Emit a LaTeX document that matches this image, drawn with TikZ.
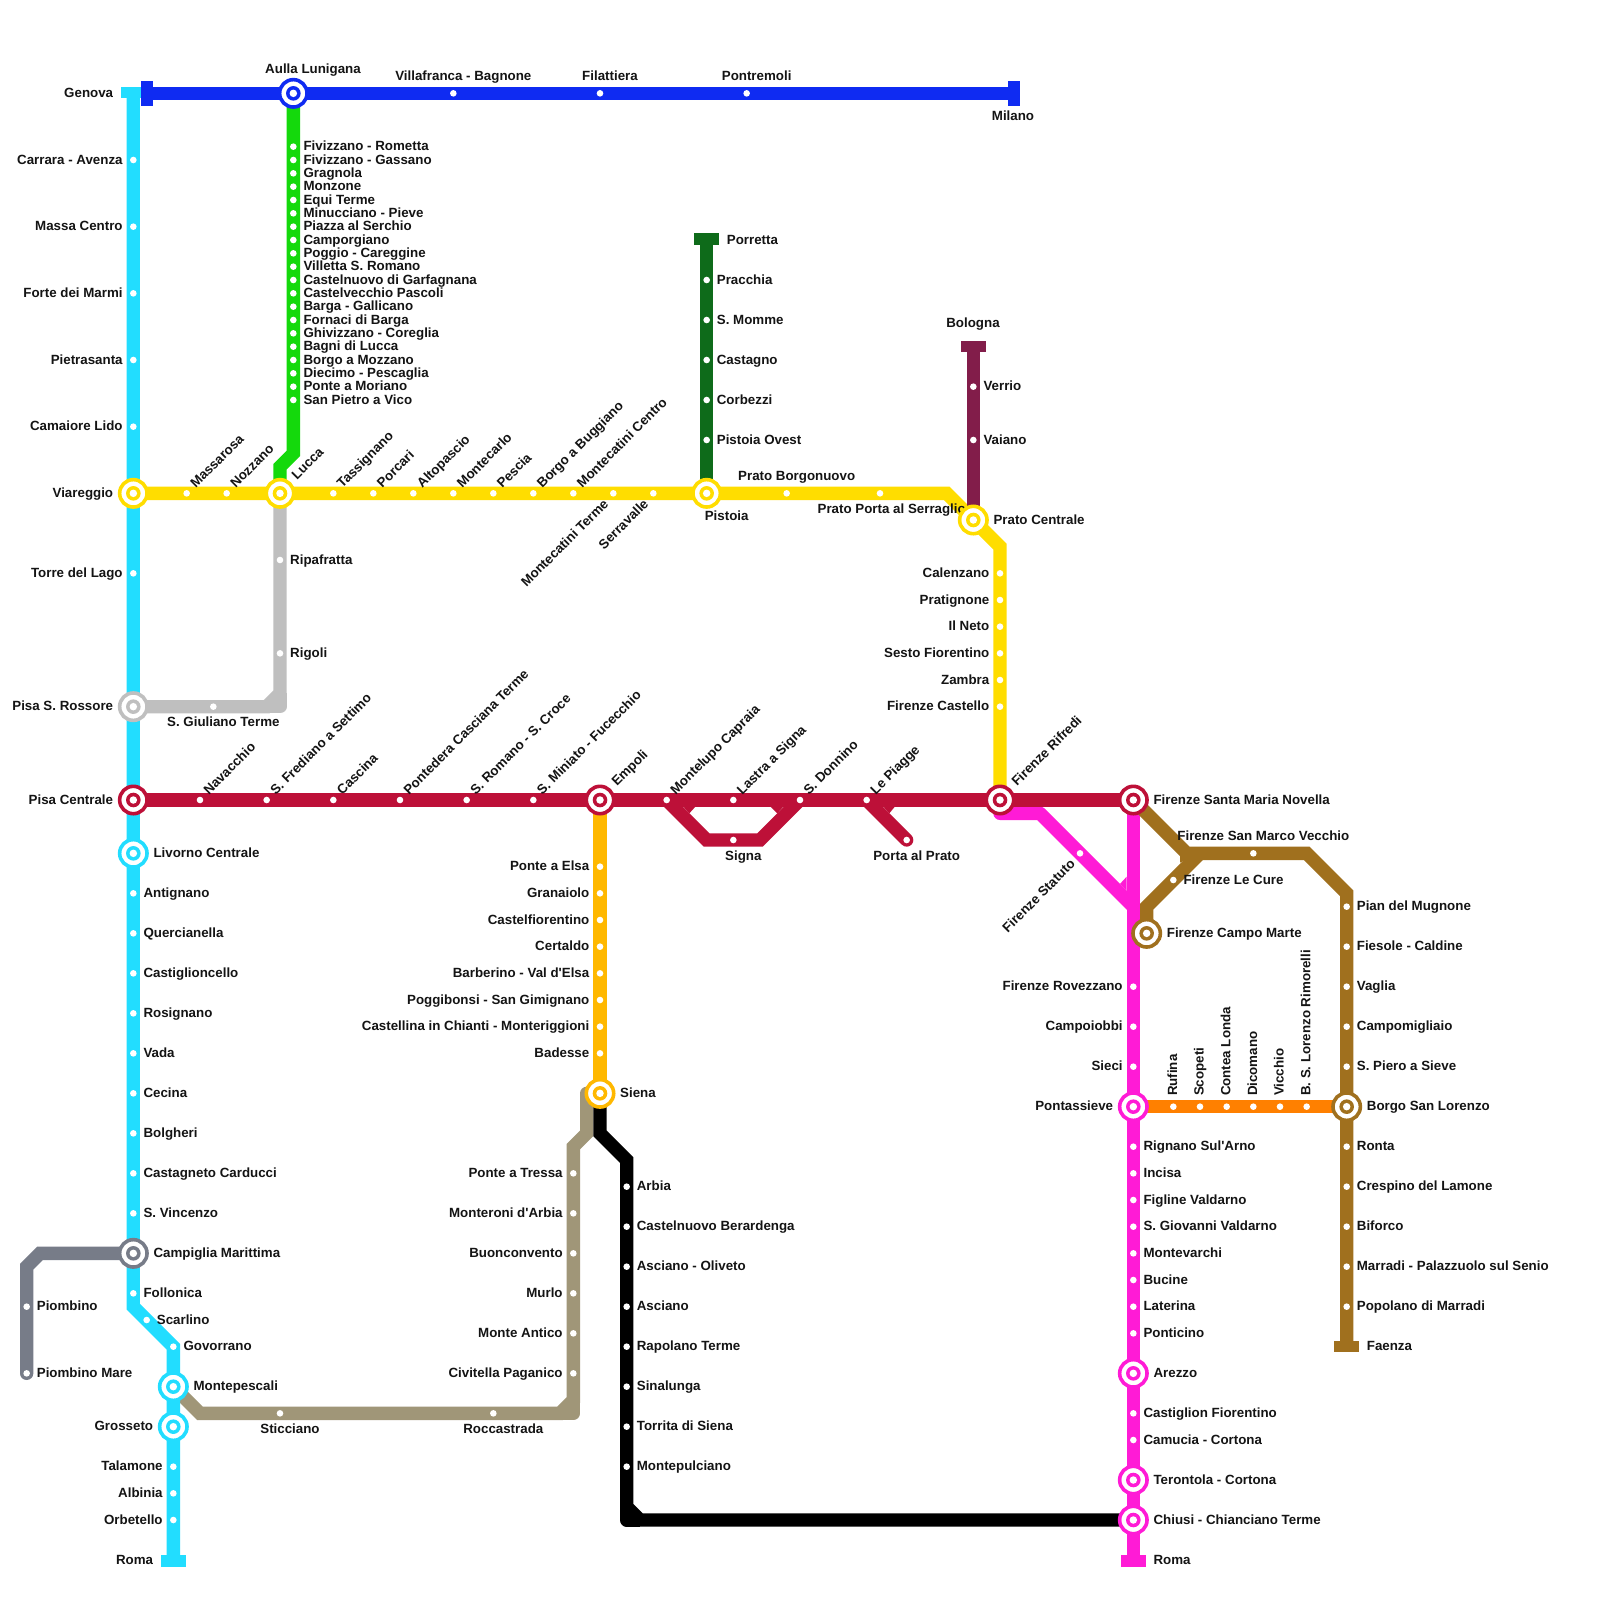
\documentclass[tikz,border=0pt]{standalone}
\usepackage{fontspec}
\newfontfamily\lblfont{Liberation Sans}
\definecolor{ccyan}{HTML}{22DDFF}
\definecolor{cblue}{HTML}{0F2BF2}
\definecolor{cgreen}{HTML}{14D90C}
\definecolor{cyell}{HTML}{FFDD00}
\definecolor{cgrey}{HTML}{BFBFBF}
\definecolor{ccrim}{HTML}{BD1038}
\definecolor{cmag}{HTML}{FF1BD6}
\definecolor{cbrown}{HTML}{A0701E}
\definecolor{ctan}{HTML}{A09678}
\definecolor{cslate}{HTML}{777C88}
\definecolor{cforest}{HTML}{0E6B1A}
\definecolor{cmaroon}{HTML}{821D4A}
\definecolor{cgold}{HTML}{FFB800}
\definecolor{corange}{HTML}{FF8000}
\tikzset{
  railway/.style={line width=13.33pt,line join=miter,line cap=butt,draw=#1},
  stopdot/.style={circle,fill=white,inner sep=0pt,minimum size=6.6pt},
  lbl/.style={inner sep=0pt,font=\lblfont\bfseries\fontsize{13.33}{15}\selectfont,text=black!92},
  ringo/.style={circle,draw=#1,line width=3.6pt,fill=white,inner sep=0pt,minimum size=27.4pt},
  ringi/.style={circle,fill=#1,inner sep=0pt,minimum size=14.6pt},
  ringc/.style={circle,fill=white,inner sep=0pt,minimum size=7.5pt},
  hbar/.style={fill=#1,inner sep=0pt,minimum width=25pt,minimum height=11.5pt},
  vbar/.style={fill=#1,inner sep=0pt,minimum width=12pt,minimum height=25pt}
}
% stops with a label: name, x, y, text
\newcommand\stR[4]{\node[stopdot] (#1) at (#2,#3) {};\node[lbl,anchor=base west,xshift=10pt,yshift=-4pt] (#1-l) at (#1.center) {#4};}
\newcommand\stL[4]{\node[stopdot] (#1) at (#2,#3) {};\node[lbl,anchor=base east,xshift=-10.5pt,yshift=-4pt] (#1-l) at (#1.center) {#4};}
\newcommand\stU[4]{\node[stopdot] (#1) at (#2,#3) {};\node[lbl,xshift=9pt,yshift=4.5pt,rotate=45,anchor=base west] (#1-l) at (#1.center) {#4};}
\newcommand\stD[4]{\node[stopdot] (#1) at (#2,#3) {};\node[lbl,xshift=-4pt,yshift=-11.5pt,rotate=45,anchor=base east] (#1-l) at (#1.center) {#4};}
\newcommand\stV[4]{\node[stopdot] (#1) at (#2,#3) {};\node[lbl,xshift=3.7pt,yshift=10.5pt,rotate=90,anchor=base west] (#1-l) at (#1.center) {#4};}
\newcommand\stA[4]{\node[stopdot] (#1) at (#2,#3) {};\node[lbl,anchor=base,xshift=10pt,yshift=13pt] (#1-l) at (#1.center) {#4};}
\newcommand\stB[4]{\node[stopdot] (#1) at (#2,#3) {};\node[lbl,anchor=base,xshift=10pt,yshift=-20pt] (#1-l) at (#1.center) {#4};}
% labels of interchanges and termini, at named coordinates
\newcommand\xR[2]{\node[lbl,anchor=base west,xshift=20pt,yshift=-4pt] (#1-l) at (#1) {#2};}
\newcommand\xL[2]{\node[lbl,anchor=base east,xshift=-20pt,yshift=-4pt] (#1-l) at (#1) {#2};}
\newcommand\xU[2]{\node[lbl,xshift=17pt,yshift=13pt,rotate=45,anchor=base west] (#1-l) at (#1) {#2};}
% interchange: name, colour
\newcommand\xch[2]{\node[ringo=#2] (#1-o) at (#1) {};\node[ringi=#2] (#1-i) at (#1) {};\node[ringc] (#1-c) at (#1) {};}
\begin{document}
\begin{tikzpicture}[x=13.3333pt,y=-13.3333pt]
\useasboundingbox[fill=white] (0,0) rectangle (120,120);
% named points
\coordinate (genovaC) at (10,7);
\coordinate (genovaB) at (11,7);
\coordinate (milano) at (76,7);
\coordinate (aulla) at (22,7);
\coordinate (viareggio) at (10,37);
\coordinate (lucca) at (21,37);
\coordinate (pistoia) at (53,37);
\coordinate (prato) at (73,39);
\coordinate (porretta) at (53,18);
\coordinate (bologna) at (73,26);
\coordinate (rossore) at (10,53);
\coordinate (pisa) at (10,60);
\coordinate (livorno) at (10,64);
\coordinate (campiglia) at (10,94);
\coordinate (montepescali) at (13,104);
\coordinate (grosseto) at (13,107);
\coordinate (romaA) at (13,117);
\coordinate (empoli) at (45,60);
\coordinate (siena) at (45,82);
\coordinate (rifredi) at (75,60);
\coordinate (smn) at (85,60);
\coordinate (campomarte) at (86,70);
\coordinate (pontassieve) at (85,83);
\coordinate (borgo) at (101,83);
\coordinate (faenza) at (101,101);
\coordinate (arezzo) at (85,103);
\coordinate (terontola) at (85,111);
\coordinate (chiusi) at (85,114);
\coordinate (romaB) at (85,117);
% bends
\coordinate (b1) at (22,34); \coordinate (b2) at (21,35);
\coordinate (b3) at (71,37); \coordinate (b4) at (75,41);
\coordinate (b5) at (21,52); \coordinate (b6) at (20,53); \coordinate (b5c) at (21,53);
\coordinate (b7) at (10,98); \coordinate (b8) at (13,101);
\coordinate (b9) at (3,94);  \coordinate (b10) at (2,95);
\coordinate (pmare) at (2,103);
\coordinate (sig0) at (50,60); \coordinate (sig1) at (53,63);
\coordinate (sig2) at (57,63); \coordinate (sig3) at (60,60);
\coordinate (pp0) at (65,60); \coordinate (pp1) at (68,63);
\coordinate (mg1) at (75,61); \coordinate (mg2) at (78,61); \coordinate (mg3) at (85,68);
\coordinate (br1) at (89,64); \coordinate (br2) at (98,64); \coordinate (br3) at (101,67);
\coordinate (br4) at (86,68); \coordinate (br5) at (90,64);
\coordinate (bk1) at (45,85); \coordinate (bk2) at (47,87); \coordinate (bk3) at (47,113); \coordinate (bk4) at (48,114); \coordinate (bkc) at (47,114);
\coordinate (tn0) at (44,82); \coordinate (tn1) at (44,85); \coordinate (tn2) at (43,86);
\coordinate (tn3) at (43,105); \coordinate (tn4) at (42,106); \coordinate (tn5) at (15,106); \coordinate (tnc) at (43,106);
% lines
\draw[railway=ctan,line cap=round] (tn0) -- (tn1) -- (tn2) -- (tn3) -- (tn4) -- (tn5) -- (montepescali);
\draw[railway=ctan,line join=round] (tn3) -- (tnc) -- (tn4);
\draw[railway=ccyan] (genovaC) -- (b7) -- (b8) -- (romaA);
\draw[railway=cslate,line cap=round] (campiglia) -- (b9) -- (b10) -- (pmare);
\draw[railway=cgreen] (aulla) -- (b1) -- (b2) -- (lucca);
\draw[railway=cgrey] (lucca) -- (b5) -- (b6) -- (rossore);
\draw[railway=cgrey,line join=round] (b5) -- (b5c) -- (b6);
\draw[railway=cforest] (porretta) -- (pistoia);
\draw[railway=cblue] (genovaB) -- (milano);
\draw[railway=cyell] (viareggio) -- (b3) -- (prato) -- (b4) -- (rifredi);
\draw[railway=cmaroon] (bologna) -- (prato);
\draw[railway=cgold] (empoli) -- (siena);
\draw[railway=black] (siena) -- (bk1) -- (bk2) -- (bk3) -- (bk4) -- (chiusi);
\draw[railway=black,line join=round] (bk3) -- (bkc) -- (bk4);
\draw[railway=cmag] (smn) -- (romaB);
\draw[railway=cmag,line join=round] (rifredi) -- (mg1) -- (mg2) -- (mg3);
\fill[cmag] (84,66.29) -- (84.5,65.75) -- (84.5,66.79) -- cycle;
\draw[railway=cbrown] (smn) -- (br1) -- (br2) -- (br3) -- (faenza);
\draw[railway=cbrown] (campomarte) -- (br4) -- (br5);
\fill[cbrown] (88.5,64.1) -- (88.5,64.7) -- (88.9,64.5) -- cycle;
\draw[railway=corange] (pontassieve) -- (borgo);
\draw[railway=ccrim] (pisa) -- (smn);
\draw[railway=ccrim] (sig0) -- (sig1) -- (sig2) -- (sig3);
\fill[ccrim] (51.2,60.45) -- (52.2,60.45) -- (51.7,61) -- cycle;
\fill[ccrim] (58.8,60.45) -- (57.75,60.45) -- (58.3,61) -- cycle;
\draw[railway=ccrim,line cap=round] (pp0) -- (pp1);
\fill[ccrim] (66.2,60.45) -- (67.15,60.45) -- (66.7,61) -- cycle;
% termini
\node[hbar=ccyan,yshift=1pt] (genovaC-t) at (10,7) {};
\node[vbar=cblue] (genovaB-t) at (genovaB) {};
\node[vbar=cblue,xshift=0.7pt] (milano-t) at (milano) {};
\node[hbar=ccyan,yshift=-1pt] (romaA-t) at (romaA) {};
\node[hbar=cmag,yshift=-1pt] (romaB-t) at (romaB) {};
\node[hbar=cbrown] (faenza-t) at (faenza) {};
\node[hbar=cforest,yshift=1.2pt] (porretta-t) at (porretta) {};
\node[hbar=cmaroon] (bologna-t) at (bologna) {};
% blue
\stA{villafranca}{34}{7}{Villafranca - Bagnone}
\stA{filattiera}{45}{7}{Filattiera}
\stA{pontremoli}{56}{7}{Pontremoli}
\node[lbl,anchor=base] (aulla-l) at (313pt,-73pt) {Aulla Lunigana};
\node[lbl,anchor=base] (milano-l) at (1013pt,-120pt) {Milano};
% cyan
\node[lbl,anchor=base east,xshift=-20pt,yshift=-4pt] (genovaC-l) at (genovaC) {Genova};
\stL{carrara}{10}{12}{Carrara - Avenza}
\stL{massa}{10}{17}{Massa Centro}
\stL{forte}{10}{22}{Forte dei Marmi}
\stL{pietrasanta}{10}{27}{Pietrasanta}
\stL{camaiore}{10}{32}{Camaiore Lido}
\xL{viareggio}{Viareggio}
\stL{torre}{10}{43}{Torre del Lago}
\xL{rossore}{Pisa S. Rossore}
\xL{pisa}{Pisa Centrale}
\xR{livorno}{Livorno Centrale}
\stR{antignano}{10}{67}{Antignano}
\stR{quercianella}{10}{70}{Quercianella}
\stR{castiglioncello}{10}{73}{Castiglioncello}
\stR{rosignano}{10}{76}{Rosignano}
\stR{vada}{10}{79}{Vada}
\stR{cecina}{10}{82}{Cecina}
\stR{bolgheri}{10}{85}{Bolgheri}
\stR{castagneto}{10}{88}{Castagneto Carducci}
\stR{vincenzo}{10}{91}{S. Vincenzo}
\xR{campiglia}{Campiglia Marittima}
\stR{follonica}{10}{97}{Follonica}
\stR{scarlino}{11}{99}{Scarlino}
\stR{govorrano}{13}{101}{Govorrano}
\xR{montepescali}{Montepescali}
\xL{grosseto}{Grosseto}
\stL{talamone}{13}{110}{Talamone}
\stL{albinia}{13}{112}{Albinia}
\stL{orbetello}{13}{114}{Orbetello}
\xL{romaA}{Roma}
% slate
\stR{piombino}{2}{98}{Piombino}
\stR{piombinomare}{2}{103}{Piombino Mare}
% green
\stR{g1}{22}{11}{Fivizzano - Rometta}
\stR{g2}{22}{12}{Fivizzano - Gassano}
\stR{g3}{22}{13}{Gragnola}
\stR{g4}{22}{14}{Monzone}
\stR{g5}{22}{15}{Equi Terme}
\stR{g6}{22}{16}{Minucciano - Pieve}
\stR{g7}{22}{17}{Piazza al Serchio}
\stR{g8}{22}{18}{Camporgiano}
\stR{g9}{22}{19}{Poggio - Careggine}
\stR{g10}{22}{20}{Villetta S. Romano}
\stR{g11}{22}{21}{Castelnuovo di Garfagnana}
\stR{g12}{22}{22}{Castelvecchio Pascoli}
\stR{g13}{22}{23}{Barga - Gallicano}
\stR{g14}{22}{24}{Fornaci di Barga}
\stR{g15}{22}{25}{Ghivizzano - Coreglia}
\stR{g16}{22}{26}{Bagni di Lucca}
\stR{g17}{22}{27}{Borgo a Mozzano}
\stR{g18}{22}{28}{Diecimo - Pescaglia}
\stR{g19}{22}{29}{Ponte a Moriano}
\stR{g20}{22}{30}{San Pietro a Vico}
% yellow
\stU{massarosa}{14}{37}{Massarosa}
\stU{nozzano}{17}{37}{Nozzano}
\xU{lucca}{Lucca}
\stU{tassignano}{25}{37}{Tassignano}
\stU{porcari}{28}{37}{Porcari}
\stU{altopascio}{31}{37}{Altopascio}
\stU{montecarlo}{34}{37}{Montecarlo}
\stU{pescia}{37}{37}{Pescia}
\stU{buggiano}{40}{37}{Borgo a Buggiano}
\stU{mcentro}{43}{37}{Montecatini Centro}
\stD{mterme}{46}{37}{Montecatini Terme}
\stD{serravalle}{49}{37}{Serravalle}
\node[lbl,anchor=base,xshift=20pt,yshift=-27pt] (pistoia-l) at (pistoia) {Pistoia};
\stA{borgonuovo}{59}{37}{Prato Borgonuovo}
\node[stopdot] (serraglio) at (66,37) {};
\node[lbl,anchor=base east] (serraglio-l) at (966pt,-513pt) {Prato Porta al Serraglio};
\xR{prato}{Prato Centrale}
\stL{calenzano}{75}{43}{Calenzano}
\stL{pratignone}{75}{45}{Pratignone}
\stL{ilneto}{75}{47}{Il Neto}
\stL{sesto}{75}{49}{Sesto Fiorentino}
\stL{zambra}{75}{51}{Zambra}
\stL{castello}{75}{53}{Firenze Castello}
% forest
\xR{porretta}{Porretta}
\stR{pracchia}{53}{21}{Pracchia}
\stR{momme}{53}{24}{S. Momme}
\stR{castagno}{53}{27}{Castagno}
\stR{corbezzi}{53}{30}{Corbezzi}
\stR{postovest}{53}{33}{Pistoia Ovest}
% maroon
\node[lbl,anchor=base] (bologna-l) at (973pt,-327pt) {Bologna};
\stR{verrio}{73}{29}{Verrio}
\stR{vaiano}{73}{33}{Vaiano}
% grey
\stR{ripafratta}{21}{42}{Ripafratta}
\stR{rigoli}{21}{49}{Rigoli}
\stB{giuliano}{16}{53}{S. Giuliano Terme}
% crimson
\stU{navacchio}{15}{60}{Navacchio}
\stU{frediano}{20}{60}{S. Frediano a Settimo}
\stU{cascina}{25}{60}{Cascina}
\stU{pontedera}{30}{60}{Pontedera Casciana Terme}
\stU{romano}{35}{60}{S. Romano - S. Croce}
\stU{miniato}{40}{60}{S. Miniato - Fucecchio}
\xU{empoli}{Empoli}
\stU{montelupo}{50}{60}{Montelupo Capraia}
\stU{lastra}{55}{60}{Lastra a Signa}
\stU{donnino}{60}{60}{S. Donnino}
\stU{piagge}{65}{60}{Le Piagge}
\xU{rifredi}{Firenze Rifredi}
\xR{smn}{Firenze Santa Maria Novella}
\stB{signa}{55}{63}{Signa}
\stB{portaprato}{68}{63}{Porta al Prato}
% gold
\stL{elsa}{45}{65}{Ponte a Elsa}
\stL{granaiolo}{45}{67}{Granaiolo}
\stL{castelf}{45}{69}{Castelfiorentino}
\stL{certaldo}{45}{71}{Certaldo}
\stL{barberino}{45}{73}{Barberino - Val d'Elsa}
\stL{poggibonsi}{45}{75}{Poggibonsi - San Gimignano}
\stL{castellina}{45}{77}{Castellina in Chianti - Monteriggioni}
\stL{badesse}{45}{79}{Badesse}
\xR{siena}{Siena}
% tan
\stL{tressa}{43}{88}{Ponte a Tressa}
\stL{monteroni}{43}{91}{Monteroni d'Arbia}
\stL{buonconvento}{43}{94}{Buonconvento}
\stL{murlo}{43}{97}{Murlo}
\stL{monteantico}{43}{100}{Monte Antico}
\stL{civitella}{43}{103}{Civitella Paganico}
\stB{sticciano}{21}{106}{Sticciano}
\stB{roccastrada}{37}{106}{Roccastrada}
% black
\stR{arbia}{47}{89}{Arbia}
\stR{berardenga}{47}{92}{Castelnuovo Berardenga}
\stR{oliveto}{47}{95}{Asciano - Oliveto}
\stR{asciano}{47}{98}{Asciano}
\stR{rapolano}{47}{101}{Rapolano Terme}
\stR{sinalunga}{47}{104}{Sinalunga}
\stR{torrita}{47}{107}{Torrita di Siena}
\stR{montepulciano}{47}{110}{Montepulciano}
% magenta
\stD{statuto}{81}{64}{Firenze Statuto}
\stL{rovezzano}{85}{74}{Firenze Rovezzano}
\stL{campoiobbi}{85}{77}{Campoiobbi}
\stL{sieci}{85}{80}{Sieci}
\xL{pontassieve}{Pontassieve}
\stR{rignano}{85}{86}{Rignano Sul'Arno}
\stR{incisa}{85}{88}{Incisa}
\stR{figline}{85}{90}{Figline Valdarno}
\stR{giovanni}{85}{92}{S. Giovanni Valdarno}
\stR{montevarchi}{85}{94}{Montevarchi}
\stR{bucine}{85}{96}{Bucine}
\stR{laterina}{85}{98}{Laterina}
\stR{ponticino}{85}{100}{Ponticino}
\xR{arezzo}{Arezzo}
\stR{castiglion}{85}{106}{Castiglion Fiorentino}
\stR{camucia}{85}{108}{Camucia - Cortona}
\xR{terontola}{Terontola - Cortona}
\xR{chiusi}{Chiusi - Chianciano Terme}
\xR{romaB}{Roma}
% brown
\stA{sanmarco}{94}{64}{Firenze San Marco Vecchio}
\stR{lecure}{88}{66}{Firenze Le Cure}
\xR{campomarte}{Firenze Campo Marte}
\stR{mugnone}{101}{68}{Pian del Mugnone}
\stR{fiesole}{101}{71}{Fiesole - Caldine}
\stR{vaglia}{101}{74}{Vaglia}
\stR{campomig}{101}{77}{Campomigliaio}
\stR{piero}{101}{80}{S. Piero a Sieve}
\xR{borgo}{Borgo San Lorenzo}
\stR{ronta}{101}{86}{Ronta}
\stR{crespino}{101}{89}{Crespino del Lamone}
\stR{biforco}{101}{92}{Biforco}
\stR{marradi}{101}{95}{Marradi - Palazzuolo sul Senio}
\stR{popolano}{101}{98}{Popolano di Marradi}
\xR{faenza}{Faenza}
% orange
\stV{rufina}{88}{83}{Rufina}
\stV{scopeti}{90}{83}{Scopeti}
\stV{contea}{92}{83}{Contea Londa}
\stV{dicomano}{94}{83}{Dicomano}
\stV{vicchio}{96}{83}{Vicchio}
\stV{bslorenzo}{98}{83}{B. S. Lorenzo Rimorelli}
% interchanges
\xch{aulla}{cblue}
\xch{viareggio}{cyell}
\xch{lucca}{cyell}
\xch{pistoia}{cyell}
\xch{prato}{cyell}
\xch{rossore}{cgrey}
\xch{pisa}{ccrim}
\xch{livorno}{ccyan}
\xch{campiglia}{cslate}
\xch{montepescali}{ccyan}
\xch{grosseto}{ccyan}
\xch{empoli}{ccrim}
\xch{rifredi}{ccrim}
\xch{smn}{ccrim}
\xch{siena}{cgold}
\xch{campomarte}{cbrown}
\xch{borgo}{cbrown}
\xch{pontassieve}{cmag}
\xch{arezzo}{cmag}
\xch{terontola}{cmag}
\xch{chiusi}{cmag}
\end{tikzpicture}
\end{document}
